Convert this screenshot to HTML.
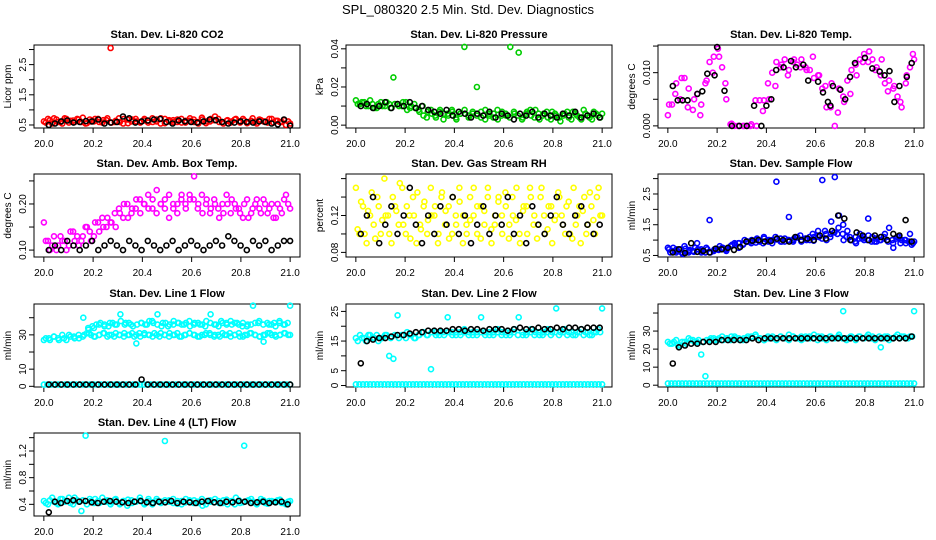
<!DOCTYPE html>
<html><head><meta charset="utf-8"><style>
html,body{margin:0;padding:0;background:#fff;}
svg{display:block;font-family:"Liberation Sans",Arial,sans-serif;}
</style></head><body>
<svg id="chart" width="936" height="540" viewBox="0 0 936 540" xmlns="http://www.w3.org/2000/svg">
<text x="468" y="14" text-anchor="middle" font-size="13">SPL_080320  2.5 Min. Std. Dev. Diagnostics</text>
</svg>
<script>
// ---- data ----
const xTicks = [20.0, 20.2, 20.4, 20.6, 20.8, 21.0];
const xTickLabels = ["20.0","20.2","20.4","20.6","20.8","21.0"];
const panelTitles = ["Stan. Dev. Li-820 CO2","Stan. Dev. Li-820 Pressure","Stan. Dev. Li-820 Temp.","Stan. Dev. Amb. Box Temp.","Stan. Dev. Gas Stream RH","Stan. Dev. Sample Flow","Stan. Dev. Line 1 Flow","Stan. Dev. Line 2 Flow","Stan. Dev. Line 3 Flow","Stan. Dev. Line 4 (LT) Flow"];
const yTitles = ["Licor ppm","kPa","degrees C","degrees C","percent","ml/min","ml/min","ml/min","ml/min","ml/min"];
const yLimits = [[0.4,3.15],[-0.0015,0.042],[-0.0004,0.0152],[0.085,0.265],[0.075,0.165],[0.45,3.15],[-0.4,48],[-0.5,27.5],[-1,45],[0.225,1.47]];
const yTickVals = [[0.5,1,1.5,2,2.5,3],[0,0.01,0.02,0.03,0.04],[0,0.005,0.01,0.015],[0.1,0.15,0.2,0.25],[0.08,0.1,0.12,0.14,0.16],[0.5,1,1.5,2,2.5,3],[0,10,20,30,40],[0,5,10,15,20,25],[0,10,20,30,40],[0.4,0.6,0.8,1.0,1.2,1.4]];
const yTickLabels = [{0.5:"0.5",1.5:"1.5",2.5:"2.5"},{0:"0.00",0.02:"0.02",0.04:"0.04"},{0:"0.000",0.01:"0.010"},{0.1:"0.10",0.2:"0.20"},{0.08:"0.08",0.12:"0.12"},{0.5:"0.5",1.5:"1.5",2.5:"2.5"},{0:"0",10:"10",30:"30"},{0:"0",5:"5",15:"15",25:"25"},{0:"0",10:"10",20:"20",30:"30"},{0.4:"0.4",0.8:"0.8",1.2:"1.2"}];

const co2Red = [0.62,0.7,0.55,0.68,0.6,0.72,0.58,0.65,0.7,0.6,0.55,0.68,0.62,0.7,0.58,0.66,3.05,0.6,0.72,0.55,0.68,0.62,0.7,0.6,0.65,0.58,0.72,0.62,0.55,0.7,0.66,0.6,0.68,0.58,0.64,0.72,0.6,0.55,0.68,0.62,0.7,0.78,0.6,0.55,0.66,0.62,0.7,0.58,0.65,0.6,0.72,0.55,0.66,0.62,0.7,0.58,0.64,0.6,0.5,0.55];
const co2RedB = [0.58,0.66,0.72,0.6,0.55,0.7,0.64,0.6,0.68,0.74,0.56,0.62,0.7,0.6,0.66,0.72,0.58,0.64,0.6,0.7,0.56,0.68,0.62,0.58,0.7,0.64,0.6,0.68,0.72,0.56,0.62,0.66,0.6,0.7,0.58,0.64,0.68,0.6,0.74,0.56,0.62,0.66,0.7,0.6,0.64,0.58,0.68,0.62,0.7,0.56,0.64,0.6,0.68,0.62,0.58,0.7,0.64,0.6,0.66,0.62];
const co2Black = [0.5,0.55,0.62,0.65,0.58,0.6,0.63,0.62,0.68,0.55,0.58,0.6,0.78,0.72,0.58,0.62,0.65,0.68,0.7,0.6,0.55,0.65,0.62,0.6,0.58,0.62,0.68,0.66,0.6,0.55,0.58,0.62,0.6,0.58,0.62,0.6,0.55,0.52,0.68,0.48];
const presGreen = [0.013,0.011,0.012,0.01,0.011,0.009,0.012,0.01,0.011,0.025,0.011,0.01,0.012,0.009,0.011,0.008,0.01,0.004,0.008,0.005,0.007,0.003,0.006,0.008,0.004,0.006,0.041,0.005,0.007,0.02,0.004,0.008,0.005,0.006,0.003,0.007,0.005,0.041,0.006,0.038,0.004,0.007,0.005,0.008,0.003,0.006,0.004,0.007,0.005,0.002,0.006,0.004,0.007,0.005,0.003,0.006,0.004,0.007,0.005,0.006];
const presGreenB = [0.011,0.012,0.01,0.013,0.009,0.011,0.01,0.012,0.009,0.011,0.01,0.012,0.008,0.01,0.009,0.007,0.005,0.007,0.006,0.004,0.008,0.006,0.005,0.007,0.003,0.006,0.008,0.004,0.006,0.005,0.007,0.003,0.006,0.004,0.008,0.005,0.006,0.004,0.007,0.005,0.003,0.006,0.008,0.004,0.006,0.005,0.007,0.003,0.006,0.004,0.005,0.007,0.003,0.006,0.004,0.008,0.005,0.003,0.006,0.004];
const presBlack = [0.01,0.011,0.009,0.01,0.012,0.009,0.011,0.01,0.012,0.009,0.01,0.008,0.007,0.006,0.008,0.005,0.007,0.006,0.004,0.006,0.005,0.007,0.004,0.006,0.005,0.003,0.006,0.005,0.007,0.004,0.006,0.005,0.004,0.006,0.005,0.007,0.004,0.005,0.006,0.004];
const tempMagA = [0.002,0.004,0.008,0.005,0.009,0.007,0.003,0.006,0.004,0.008,0.012,0.013,0.0145,0.011,0.005,0.0003,0,0,0,0,0.0003,0.0048,0.0048,0.0048,0.008,0.01,0.012,0.011,0.0125,0.0105,0.012,0.0115,0.0125,0.011,0.0105,0.009,0.0095,0.007,0.0035,0.0035,0,0.007,0.0055,0.0085,0.0105,0.0115,0.0125,0.0135,0.012,0.0125,0.011,0.0095,0.008,0.0085,0.007,0.0055,0.0035,0.008,0.011,0.0125];
const tempMagB = [0.004,0.006,0.009,0.0035,0.005,0.002,0.0085,0.01,0.013,0.008,0.0004,0,0,0,0,0.0028,0.005,0.0075,0.0115,0.0095,0.0125,0.011,0.0105,0.013,0.0095,0.0075,0.008,0.0025,0.0045,0.006,0.0095,0.012,0.014,0.0105,0.0125,0.0065,0.0075,0.0045,0.0095,0.0135];
const tempBlackX = [20.02,20.04,20.06,20.08,20.12,20.14,20.16,20.19,20.2,20.23,20.26,20.29,20.32,20.35,20.38,20.4,20.42,20.44,20.47,20.5,20.52,20.55,20.57,20.61,20.63,20.65,20.66,20.67,20.7,20.72,20.74,20.76,20.8,20.83,20.86,20.88,20.9,20.92,20.94,20.97,20.99];
const tempBlackY = [0.0075,0.0048,0.0048,0.0048,0.006,0.0065,0.0098,0.0095,0.0148,0.0066,0,0,0,0.0038,0,0.0038,0.005,0.0105,0.011,0.0122,0.011,0.0115,0.0085,0.0083,0.0063,0.0045,0.0038,0.0075,0.0068,0.005,0.0092,0.0118,0.0128,0.0108,0.0102,0.0095,0.0103,0.0045,0.0075,0.0092,0.0118];
const ambMag = [0.16,0.12,0.11,0.1,0.13,0.12,0.11,0.14,0.13,0.12,0.15,0.14,0.13,0.16,0.17,0.15,0.16,0.18,0.19,0.17,0.2,0.18,0.19,0.21,0.2,0.22,0.19,0.18,0.2,0.21,0.17,0.19,0.2,0.22,0.19,0.21,0.26,0.2,0.18,0.21,0.19,0.2,0.17,0.18,0.2,0.21,0.19,0.18,0.2,0.17,0.19,0.21,0.18,0.2,0.19,0.17,0.2,0.18,0.22,0.19];
const ambMagB = [0.12,0.1,0.13,0.11,0.12,0.1,0.14,0.12,0.11,0.13,0.15,0.12,0.16,0.14,0.15,0.17,0.16,0.15,0.18,0.2,0.17,0.19,0.21,0.18,0.2,0.19,0.21,0.23,0.2,0.19,0.22,0.2,0.18,0.21,0.2,0.22,0.21,0.19,0.22,0.2,0.18,0.21,0.19,0.2,0.22,0.18,0.2,0.19,0.17,0.21,0.18,0.2,0.19,0.21,0.18,0.2,0.17,0.19,0.21,0.2];
const ambBlack = [0.1,0.11,0.1,0.12,0.11,0.1,0.11,0.12,0.1,0.11,0.12,0.11,0.1,0.12,0.11,0.1,0.12,0.11,0.1,0.11,0.12,0.1,0.11,0.12,0.11,0.1,0.11,0.12,0.11,0.13,0.12,0.11,0.1,0.12,0.11,0.12,0.1,0.11,0.12,0.12];
const rhYellow = [0.15,0.1,0.13,0.09,0.12,0.11,0.14,0.1,0.16,0.12,0.09,0.13,0.11,0.15,0.1,0.12,0.14,0.09,0.11,0.13,0.1,0.15,0.12,0.09,0.14,0.11,0.13,0.1,0.12,0.15,0.09,0.11,0.14,0.12,0.1,0.13,0.11,0.15,0.09,0.12,0.14,0.1,0.13,0.11,0.12,0.15,0.09,0.13,0.1,0.14,0.12,0.11,0.15,0.1,0.13,0.09,0.12,0.14,0.11,0.13,0.1,0.15,0.12,0.09,0.14,0.11,0.13,0.1,0.15,0.12];
const rhYellowB = [0.105,0.135,0.1,0.125,0.145,0.095,0.13,0.115,0.12,0.1,0.14,0.125,0.155,0.11,0.13,0.095,0.12,0.145,0.105,0.135,0.115,0.12,0.13,0.1,0.145,0.125,0.095,0.14,0.11,0.135,0.12,0.1,0.115,0.15,0.13,0.095,0.125,0.14,0.105,0.11,0.135,0.12,0.145,0.095,0.14,0.115,0.1,0.125,0.13,0.15,0.11,0.095,0.14,0.12,0.105,0.13,0.115,0.145,0.12,0.1,0.135,0.095,0.11,0.13,0.125,0.1,0.145,0.115,0.14,0.12];
const rhBlack = [0.1,0.12,0.14,0.09,0.11,0.13,0.1,0.12,0.15,0.11,0.09,0.12,0.1,0.13,0.11,0.14,0.1,0.12,0.09,0.11,0.13,0.1,0.12,0.11,0.14,0.1,0.12,0.09,0.13,0.11,0.1,0.12,0.14,0.11,0.1,0.12,0.13,0.11,0.1,0.11];
const sampleBlue = [0.75,0.65,0.6,0.7,0.8,0.6,0.65,0.9,0.7,0.6,1.65,0.65,0.7,0.75,0.65,0.8,0.9,0.75,0.85,0.95,0.9,1.0,0.95,1.1,1.0,0.9,2.9,1.05,0.95,1.75,1.0,1.1,0.95,1.05,1.0,1.1,1.3,2.95,1.0,1.2,3.05,1.8,1.5,1.3,1.0,1.1,1.2,1.0,1.7,1.1,0.95,1.0,1.2,1.4,0.75,1.1,1.0,0.9,1.2,0.95];
const sampleBlueB = [0.6,0.7,0.55,0.65,0.75,0.6,0.7,0.65,0.8,0.7,0.85,0.9,1.0,0.95,1.05,0.9,1.0,1.1,0.95,1.0,1.05,1.15,1.0,1.2,1.1,1.3,1.6,1.2,1.0,1.1,0.9,1.05,1.15,0.95,1.1,1.0,0.9,1.1,1.0,0.85];
const sampleBlueC = [0.7,0.75,0.65,0.6,0.72,0.68,0.62,0.7,0.65,0.75,0.6,0.7,0.68,0.75,0.72,0.8,0.85,0.9,0.88,0.95,1.0,0.92,0.98,1.05,0.95,1.0,1.02,0.95,1.05,1.0,0.95,1.08,1.0,1.05,1.1,0.98,1.15,1.05,1.2,1.1,1.25,1.4,1.2,1.1,1.0,0.95,1.05,1.1,1.0,0.95,1.05,1.0,1.1,0.95,1.0,1.05,0.9,1.0,0.95,0.9];
const sampleBlack = [0.6,0.7,0.58,0.9,0.62,0.65,0.6,0.72,0.7,0.75,0.68,0.78,0.95,0.98,1.0,0.95,0.97,1.05,1.0,0.95,1.1,1.0,1.05,1.0,1.15,1.05,1.3,1.8,1.7,1.0,1.25,1.15,1.0,1.15,1.1,1.0,1.2,1.15,1.65,0.95];
const line1Lower = [27,28,29,27,28,30,29,28,30,31,29,30,31,30,29,30,31,30,29,31,30,30,31,29,30,31,30,29,30,31,30,29,30,31,30,29,30,31,30,29,30,31,30,29,30,31,30,30,31,30];
const line1LowerB = [28,27,29,28,30,27,29,28,30,29,31,30,29,30,31,29,30,31,30,29,30,31,30,29,31,30,29,30,31,30,29,30,31,29,30,31,30,29,30,31,30,29,30,31,30,29,30,31,29,30,31,30,29,30,31,30,29,30,31,30];
const line1Upper = [40,33,34,36,35,37,36,42,37,36,25,37,36,38,42,37,35,36,37,36,38,37,36,35,42,36,38,37,36,37,35,36,47,37,26,36,37,38,36,47];
const line1UpperB = [34,35,36,37,36,35,37,36,38,36,37,35,36,37,36,38,37,36,35,37,36,38,37,36,37,35,36,37,36,38,37,36,35,37,36,38,37,36,37,35,36,37,38,36,37,36,35,37,36,37];
const line1Low = [1,1,1,1,1,1,1,1,1,1,1,1,1,1,1,1,1,1,1,1,1,1,1,1,1,1,1,1,1,1,1,1,1,1,1,1,1,1,1,1,1,1,1,1,1,1,1,1,1,1,1,1,1,1,1,1,1,1,1,1,1,1,1,1,1,1,1,1,1,1];
const line1Black = [1,1,1,1,1,1,1,1,1,1,1,1,1,1,1,4,1,1,1,1,1,1,1,1,1,1,1,1,1,1,1,1,1,1,1,1,1,1,1,1];
const line2Cyan = [16,17,16,17,16,17,16,17,10,9,23.7,17,16,17,16,17,18,17,5.5,18,17,18,23,18,17,18,19,18,17,18,23,18,17,18,19,18,17,18,19,23,17,18,19,18,17,18,19,18,26,18,19,18,17,18,19,18,17,18,19,26];
const line2CyanB = [15,16,15,17,16,15,16,17,16,17,16,17,18,17,16,17,18,17,18,17,18,17,18,17,18,17,18,17,18,17,18,17,18,17,18,17,18,17,18,17,18,17,18,17,18,17,18,17,18,17,18,17,18,17,18,17,18,17,18,18];
const line2Low = [0.4,0.4,0.4,0.4,0.4,0.4,0.4,0.4,0.4,0.4,0.4,0.4,0.4,0.4,0.4,0.4,0.4,0.4,0.4,0.4,0.4,0.4,0.4,0.4,0.4,0.4,0.4,0.4,0.4,0.4,0.4,0.4,0.4,0.4,0.4,0.4,0.4,0.4,0.4,0.4,0.4,0.4,0.4,0.4,0.4,0.4,0.4,0.4,0.4,0.4,0.4,0.4,0.4,0.4,0.4,0.4,0.4,0.4,0.4,0.4,0.4,0.4,0.4,0.4,0.4,0.4,0.4,0.4,0.4,0.4];
const line2Black = [7.5,15,15.5,16,16,16.5,17,17,17.5,18,18,18.5,18.5,18.5,18.5,19,19,18.5,19,19,18.5,19,19,19,18.5,19,19.5,19,19,19.5,19,19,19.5,19,19.5,19.5,19,19.5,19.5,19.5];
const line3Cyan = [24,23,25,22,24,26,25,24,17,5,25,26,25,27,26,25,27,26,25,26,27,28,26,25,27,26,25,27,26,28,27,26,25,27,26,28,27,26,25,27,26,28,41,26,27,25,27,26,28,27,26,21,27,25,26,28,27,26,27,41];
const line3CyanB = [23,24,22,24,23,25,24,25,24,25,26,25,26,25,26,27,26,25,26,27,26,27,26,25,26,27,26,27,26,25,27,26,27,26,27,26,25,27,26,27,26,27,26,25,27,26,27,26,27,26,25,27,26,27,26,27,26,27,26,27];
const line3Low = [1,1,1,1,1,1,1,1,1,1,1,1,1,1,1,1,1,1,1,1,1,1,1,1,1,1,1,1,1,1,1,1,1,1,1,1,1,1,1,1,1,1,1,1,1,1,1,1,1,1,1,1,1,1,1,1,1,1,1,1,1,1,1,1,1,1,1,1,1,1];
const line3Black = [12,21,22,23,23,24,24,24,25,25,25,25,25,26,25,26,26,26,26,26,26,26,26,26,26,26,26,26,26,26,26,26,26,26,26,26,26,26,26,27];
const line4Cyan = [0.45,0.4,0.5,0.42,0.48,0.44,0.5,0.4,0.46,0.3,1.43,0.48,0.42,0.45,0.5,0.44,0.4,0.47,0.42,0.45,0.38,0.46,0.44,0.5,0.42,0.45,0.4,0.48,0.44,1.35,0.46,0.42,0.45,0.4,0.48,0.44,0.46,0.42,0.38,0.45,0.44,0.48,0.42,0.46,0.4,0.45,0.5,0.42,1.28,0.46,0.44,0.4,0.48,0.42,0.45,0.44,0.46,0.42,0.4,0.45];
const line4CyanB = [0.42,0.46,0.44,0.4,0.48,0.45,0.42,0.5,0.44,0.46,0.4,0.45,0.48,0.42,0.44,0.46,0.43,0.48,0.4,0.45,0.47,0.42,0.44,0.46,0.4,0.48,0.43,0.45,0.42,0.46,0.44,0.48,0.41,0.45,0.43,0.46,0.42,0.44,0.48,0.4,0.46,0.43,0.45,0.42,0.47,0.44,0.4,0.46,0.43,0.45,0.48,0.42,0.44,0.46,0.41,0.45,0.43,0.47,0.42,0.44];
const line4Black = [0.28,0.44,0.42,0.45,0.46,0.44,0.45,0.43,0.42,0.44,0.45,0.44,0.43,0.42,0.44,0.45,0.43,0.42,0.44,0.43,0.45,0.42,0.44,0.43,0.42,0.44,0.45,0.43,0.42,0.44,0.43,0.45,0.44,0.42,0.43,0.44,0.42,0.43,0.44,0.4];

// series: [panelIndex, yValues, xStart, xEnd, color, name, xArray?]
const seriesList = [
 [0,co2Red,20.0,21.0,"#ff0000","co2-series"],[0,co2RedB,20.008,20.992,"#ff0000","co2-series-b"],[0,co2Black,20.02,21.0,"#000","co2-black"],
 [1,presGreen,20.0,21.0,"#00cd00","pressure-series"],[1,presGreenB,20.008,20.992,"#00cd00","pressure-series-b"],[1,presBlack,20.02,20.99,"#000","pressure-black"],
 [2,tempMagA,20.0,21.0,"#ff00ff","temp-series"],[2,tempMagB,20.005,20.995,"#ff00ff","temp-series-b"],[2,tempBlackY,0,0,"#000","temp-black",tempBlackX],
 [3,ambMag,20.0,21.0,"#ff00ff","ambient-series"],[3,ambMagB,20.008,20.992,"#ff00ff","ambient-series-b"],[3,ambBlack,20.02,21.0,"#000","ambient-black"],
 [4,rhYellow,20.0,21.0,"#ffff00","rh-series"],[4,rhYellowB,20.007,20.993,"#ffff00","rh-series-b"],[4,rhBlack,20.02,20.99,"#000","rh-black"],
 [5,sampleBlue,20.0,21.0,"#0000ff","sample-series"],[5,sampleBlueB,20.01,20.99,"#0000ff","sample-series-b"],[5,sampleBlueC,20.005,20.995,"#0000ff","sample-series-c"],[5,sampleBlack,20.02,20.99,"#000","sample-black"],
 [6,line1Lower,20.0,21.0,"#00ffff","line1-lower"],[6,line1LowerB,20.008,20.992,"#00ffff","line1-lower-b"],[6,line1Upper,20.16,21.0,"#00ffff","line1-upper"],[6,line1UpperB,20.18,20.99,"#00ffff","line1-upper-b"],[6,line1Low,20.0,21.0,"#00ffff","line1-low"],[6,line1Black,20.02,21.0,"#000","line1-black"],
 [7,line2Cyan,20.0,21.0,"#00ffff","line2-series"],[7,line2CyanB,20.008,20.992,"#00ffff","line2-series-b"],[7,line2Low,20.0,21.0,"#00ffff","line2-low"],[7,line2Black,20.02,20.99,"#000","line2-black"],
 [8,line3Cyan,20.0,21.0,"#00ffff","line3-series"],[8,line3CyanB,20.008,20.992,"#00ffff","line3-series-b"],[8,line3Low,20.0,21.0,"#00ffff","line3-low"],[8,line3Black,20.02,20.99,"#000","line3-black"],
 [9,line4Cyan,20.0,21.0,"#00ffff","line4-series"],[9,line4CyanB,20.008,20.992,"#00ffff","line4-series-b"],[9,line4Black,20.02,20.99,"#000","line4-black"]
];

const NS = "http://www.w3.org/2000/svg";
const svg = document.getElementById("chart");
const colLefts = [34,346,658], rowTops = [45,174,304,433];
const W = 266, H = 83;
function mk(tag, attrs, parent){ const e = document.createElementNS(NS, tag); for (const k in attrs) e.setAttribute(k, attrs[k]); parent.appendChild(e); return e; }
function xScale(p, x){ return p.left + (x - 19.96) / 1.08 * W; }
function yScale(p, y){ const lim = yLimits[p.i]; return p.top + H - (y - lim[0]) / (lim[1] - lim[0]) * H; }

const panels = [];
for (let i = 0; i < 10; i++) {
  const p = {i: i, left: colLefts[i % 3], top: rowTops[Math.floor(i / 3)]};
  panels.push(p);
  const g = mk("g", {}, svg);
  
  
  p.g = g;
  const t = mk("text", {x: p.left + W / 2, y: p.top - 7, "text-anchor": "middle", "font-size": "11", "font-weight": "bold"}, g);
  t.textContent = panelTitles[i];
  
  
  const box = mk("rect", {x: p.left, y: p.top, width: W, height: H, fill: "none", stroke: "#000", "stroke-width": "1"}, g);
  
  
  const xa = mk("g", {}, g);
  
  
  xTicks.forEach((v, k) => {
    const x = xScale(p, v);
    mk("line", {x1: x, x2: x, y1: p.top + H, y2: p.top + H + 5, stroke: "#000"}, xa);
    const tl = mk("text", {x: x, y: p.top + H + 19, "text-anchor": "middle", "font-size": "10"}, xa);
    tl.textContent = xTickLabels[k];
    
    
  });
  const ya = mk("g", {}, g);
  
  
  const tv = yTickVals[i];
  mk("line", {x1: p.left, x2: p.left, y1: yScale(p, tv[0]), y2: yScale(p, tv[tv.length - 1]), stroke: "#000"}, ya);
  tv.forEach(v => {
    const y = yScale(p, v);
    mk("line", {x1: p.left - 5, x2: p.left, y1: y, y2: y, stroke: "#000"}, ya);
    const lab = yTickLabels[i][v];
    if (lab !== undefined) {
      const tl = mk("text", {x: 0, y: 0, "text-anchor": "middle", "font-size": "10", transform: "translate(" + (p.left - 8) + "," + y + ") rotate(-90)"}, ya);
      tl.textContent = lab;
      
      
    }
  });
  const yt = mk("text", {x: 0, y: 0, "text-anchor": "middle", "font-size": "10", transform: "translate(" + (p.left - 23) + "," + (p.top + H / 2) + ") rotate(-90)"}, g);
  yt.textContent = yTitles[i];
  
  
}

seriesList.forEach(s => {
  const p = panels[s[0]];
  const ys = s[1];
  const sg = mk("g", {fill: "none", stroke: s[4], "stroke-width": "1.6"}, p.g);
  
  
  ys.forEach((v, k) => {
    const xv = s[6] ? s[6][k] : s[2] + (ys.length > 1 ? (s[3] - s[2]) * k / (ys.length - 1) : 0);
    const c = mk("circle", {cx: xScale(p, xv).toFixed(1), cy: yScale(p, v).toFixed(1), r: "2.5"}, sg);
    
    
  });
});
</script>
</body></html>
